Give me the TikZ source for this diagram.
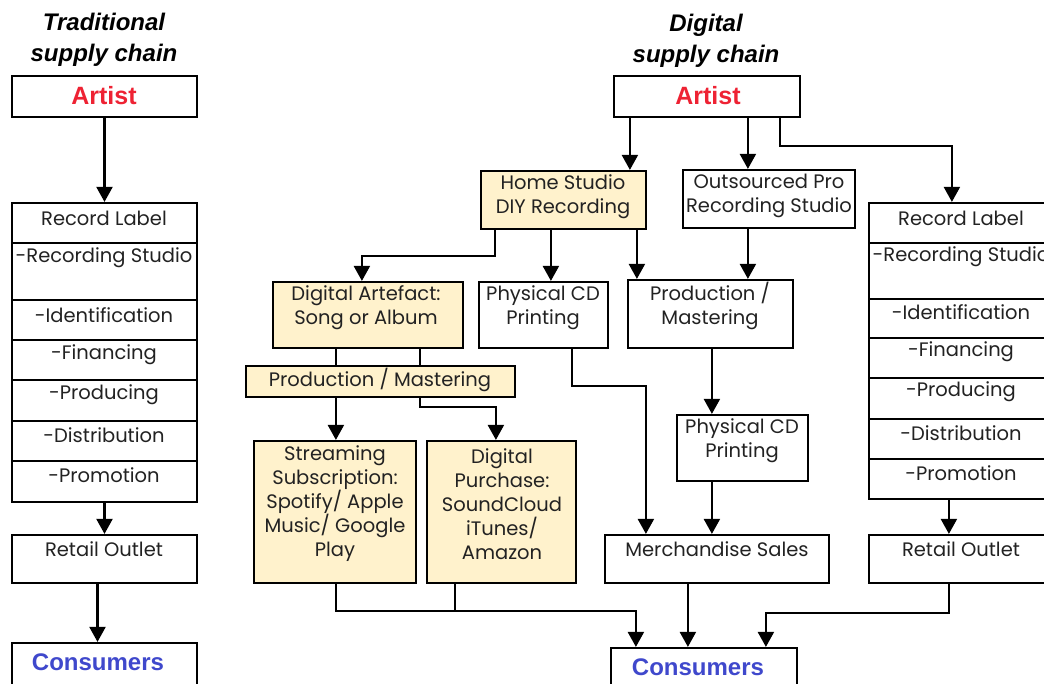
\documentclass[tikz,border=0pt]{standalone}
\usepackage{fontspec}
\setmainfont{Poppins}
\newfontfamily\titlef{Liberation Sans}
\usetikzlibrary{arrows.meta}
\definecolor{boxyellow}{HTML}{FFF2CC}
\definecolor{artistred}{HTML}{EE2233}
\definecolor{consblue}{HTML}{3F48CC}
\definecolor{txtgray}{HTML}{222222}
\newcommand{\bxn}[6][box]{\node[#1, minimum width={(#4-#2)*1pt}, minimum height={(#5-#3)*1pt}] (#6) at ({(#2+#4)/2},{(#3+#5)/2}) {};}
\begin{document}
\begin{tikzpicture}[x=1pt,y=-1pt,
  box/.style={draw=black, line width=2.2pt, rectangle, inner sep=0pt},
  ybox/.style={box, fill=boxyellow},
  txt/.style={font=\fontsize{19.5}{24}\selectfont, text=txtgray, align=center, inner sep=0pt},
  ttl/.style={font=\titlef\bfseries\itshape\fontsize{24}{31}\selectfont, align=center, inner sep=0pt},
  artist/.style={font=\titlef\bfseries\fontsize{25}{30}\selectfont, text=artistred, inner sep=0pt},
  cons/.style={font=\titlef\bfseries\fontsize{24}{30}\selectfont, text=consblue, inner sep=0pt},
  ln/.style={line width=2.2pt},
  arr/.style={line width=2.2pt, -{Triangle[width=16pt,length=15pt]}}]
\useasboundingbox (0,0) rectangle (1044,684);
\clip (0,0) rectangle (1044,684);
\fill[white] (0,0) rectangle (1044,684);

% ---------- Traditional ----------
\node[ttl] (t1) at (104,40) {Traditional\\supply chain};
\bxn{12}{76}{197}{117}{a1}
\node[artist] (a1t) at (104,96) {Artist};
\bxn{12}{203}{197}{243}{l1}
\bxn{12}{243}{197}{300}{l2}
\bxn{12}{300}{197}{340}{l3}
\bxn{12}{340}{197}{380}{l4}
\bxn{12}{380}{197}{421}{l5}
\bxn{12}{421}{197}{461}{l6}
\bxn{12}{461}{197}{502}{l7}
\node[txt] (l1t) at (104,218) {Record Label};
\node[txt] (l2t) at (104,258) {-Recording Studio};
\node[txt] (l3t) at (104,315) {-Identification};
\node[txt] (l4t) at (104,355) {-Financing};
\node[txt] (l5t) at (104,395) {-Producing};
\node[txt] (l6t) at (104,435) {-Distribution};
\node[txt] (l7t) at (104,475) {-Promotion};
\bxn{12}{535}{197}{583}{ro1}
\node[txt] (ro1t) at (104,549) {Retail Outlet};
\bxn{12}{643}{197}{690}{c1}
\node[cons] (c1t) at (98,662) {Consumers};

\draw[arr] (a1.south) -- (l1.north);
\draw[arr] (l7.south) -- (ro1.north);
\draw[arr] ([xshift=-7pt]ro1.south) -- ([xshift=-7pt]c1.north);

% ---------- Digital ----------
\node[ttl] (t2) at (706,41) {Digital\\supply chain};
\bxn{614}{76}{800}{117}{a2}
\node[artist] (a2t) at (708,96) {Artist};
\bxn[ybox]{481}{171}{646}{229}{hs}
\node[txt] (hst) at (563,197) {Home Studio\\DIY Recording};
\bxn{683}{170}{855}{228}{op}
\node[txt] (opt) at (769,196) {Outsourced Pro\\Recording Studio};
\bxn[ybox]{273}{282}{463}{348}{da}
\node[txt] (dat) at (366,308) {Digital Artefact:\\Song or Album};
\bxn{479}{282}{608}{348}{pc1}
\node[txt] (pc1t) at (543,308) {Physical CD\\Printing};
\bxn{628}{280}{793}{348}{pm2}
\node[txt] (pm2t) at (710,306) {Production /\\Mastering};
\bxn[ybox]{246}{366}{515}{397}{pmy}
\node[txt] (pmyt) at (380,380) {Production / Mastering};
\bxn{677}{415}{808}{481}{pc2}
\node[txt] (pc2t) at (742,441) {Physical CD\\Printing};
\bxn[ybox]{254}{441}{416}{583}{st}
\node[txt] (stt) at (335,504) {Streaming\\Subscription:\\Spotify/ Apple\\Music/ Google\\Play};
\bxn[ybox]{427}{441}{576}{583}{dp}
\node[txt] (dpt) at (502,504) {Digital\\Purchase:\\SoundCloud\\iTunes/\\Amazon};
\bxn{605}{535}{829}{583}{ms}
\node[txt] (mst) at (717,549) {Merchandise Sales};
\bxn{611}{648}{797}{690}{c2}
\node[cons] (c2t) at (698,667) {Consumers};

% right column
\bxn{869}{203}{1054}{243}{r1}
\bxn{869}{243}{1054}{299}{r2}
\bxn{869}{299}{1054}{338}{r3}
\bxn{869}{338}{1054}{378}{r4}
\bxn{869}{378}{1054}{419}{r5}
\bxn{869}{419}{1054}{459}{r6}
\bxn{869}{459}{1054}{499}{r7}
\node[txt] (r1t) at (961,218) {Record Label};
\node[txt] (r2t) at (961,257) {-Recording Studio};
\node[txt] (r3t) at (961,312) {-Identification};
\node[txt] (r4t) at (961,352) {-Financing};
\node[txt] (r5t) at (961,392) {-Producing};
\node[txt] (r6t) at (961,433) {-Distribution};
\node[txt] (r7t) at (961,473) {-Promotion};
\bxn{869}{535}{1054}{583}{ro2}
\node[txt] (ro2t) at (961,549) {Retail Outlet};

% connectors
\draw[arr] ([xshift=17pt]a2.south west) -- ([xshift=150pt]hs.north west);
\draw[arr] ([xshift=135pt]a2.south west) -- ([xshift=66pt]op.north west);
\draw[arr] ([xshift=167pt]a2.south west) -- ++(0,28) -| ([xshift=84pt]r1.north west);
\draw[arr] ([xshift=15pt]hs.south west) -- ++(0,26) -| ([xshift=90pt]da.north west);
\draw[arr] ([xshift=71pt]hs.south west) -- ([xshift=73pt]pc1.north west);
\draw[arr] ([xshift=157pt]hs.south west) -- ([xshift=10pt]pm2.north west);
\draw[arr] ([xshift=66pt]op.south west) -- ([xshift=121pt]pm2.north west);
\draw[ln] ([xshift=64pt]da.south west) -- ([xshift=91pt]pmy.north west);
\draw[ln] ([xshift=148pt]da.south west) -- ([xshift=175pt]pmy.north west);
\draw[arr] ([xshift=91pt]pmy.south west) -- ([xshift=83pt]st.north west);
\draw[arr] ([xshift=175pt]pmy.south west) -- ++(0,9) -| ([xshift=70pt]dp.north west);
\draw[arr] ([xshift=94pt]pc1.south west) -- ++(0,37) -| ([xshift=42pt]ms.north west);
\draw[arr] ([xshift=85pt]pm2.south west) -- ([xshift=36pt]pc2.north west);
\draw[arr] ([xshift=36pt]pc2.south west) -- ([xshift=108pt]ms.north west);
\draw[arr] ([xshift=83pt]st.south west) -- ++(0,27) -| ([xshift=26pt]c2.north west);
\draw[ln] ([xshift=29pt]dp.south west) -- ++(0,27);
\draw[arr] ([xshift=84pt]ms.south west) -- ([xshift=78pt]c2.north west);
\draw[arr] ([xshift=81pt]ro2.south west) -- ++(0,29) -| ([xshift=156pt]c2.north west);
\draw[arr] ([xshift=81pt]r7.south west) -- ([xshift=81pt]ro2.north west);
\end{tikzpicture}
\end{document}
